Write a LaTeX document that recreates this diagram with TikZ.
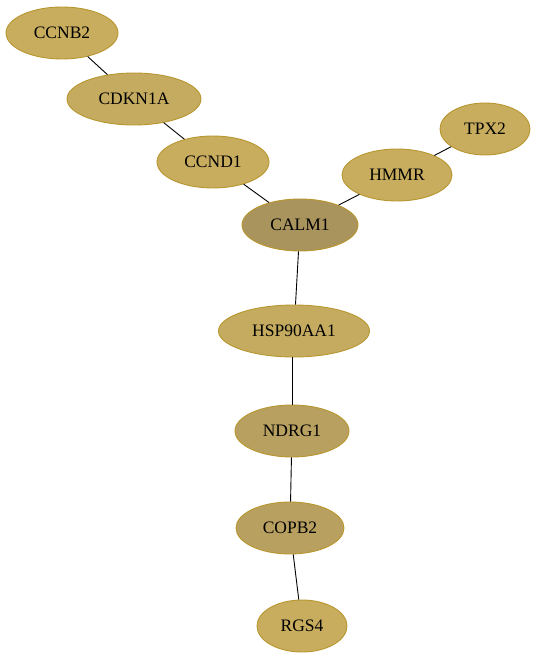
\documentclass[tikz,border=0pt]{standalone}
\usepackage{fontspec}
\setmainfont{Liberation Serif}
\definecolor{bord}{HTML}{B8962E}
\definecolor{gA}{HTML}{C8AD5F}
\definecolor{gB}{HTML}{C4AB60}
\definecolor{gC}{HTML}{A9945D}
\definecolor{gD}{HTML}{B8A060}
\tikzset{gene/.style={ellipse, draw=bord, line width=0.9pt, inner sep=0pt, font=\fontsize{17.5}{20}\selectfont, text=black},
edge/.style={draw=black, line width=0.9pt}}
\usetikzlibrary{shapes.geometric}
\begin{document}
\begin{tikzpicture}[x=1pt,y=-1pt]
\useasboundingbox (0,0) rectangle (537,660);
\node[gene, fill=gA, minimum width=112pt, minimum height=52pt] (ccnb2) at (62,33) {CCNB2};
\node[gene, fill=gB, minimum width=134pt, minimum height=52pt] (cdkn1a) at (134,99) {CDKN1A};
\node[gene, fill=gA, minimum width=112pt, minimum height=52pt] (ccnd1) at (213,162) {CCND1};
\node[gene, fill=gC, minimum width=116pt, minimum height=52pt] (calm1) at (300,225) {CALM1};
\node[gene, fill=gA, minimum width=110pt, minimum height=52pt] (hmmr) at (397,175) {HMMR};
\node[gene, fill=gA, minimum width=90pt, minimum height=52pt] (tpx2) at (485,129) {TPX2};
\node[gene, fill=gB, minimum width=151pt, minimum height=52pt] (hsp) at (294,331) {HSP90AA1};
\node[gene, fill=gD, minimum width=114pt, minimum height=52pt] (ndrg1) at (292,431) {NDRG1};
\node[gene, fill=gD, minimum width=108pt, minimum height=52pt] (copb2) at (290,528) {COPB2};
\node[gene, fill=gA, minimum width=90pt, minimum height=52pt] (rgs4) at (302,626) {RGS4};
\draw[edge] (ccnb2) -- (cdkn1a);
\draw[edge] (cdkn1a) -- (ccnd1);
\draw[edge] (ccnd1) -- (calm1);
\draw[edge] (calm1) -- (hmmr);
\draw[edge] (hmmr) -- (tpx2);
\draw[edge] (calm1) -- (hsp);
\draw[edge] (hsp.south -| ndrg1) -- (ndrg1);
\draw[edge] (ndrg1) -- (copb2);
\draw[edge] (copb2) -- (rgs4);
\end{tikzpicture}
\end{document}
